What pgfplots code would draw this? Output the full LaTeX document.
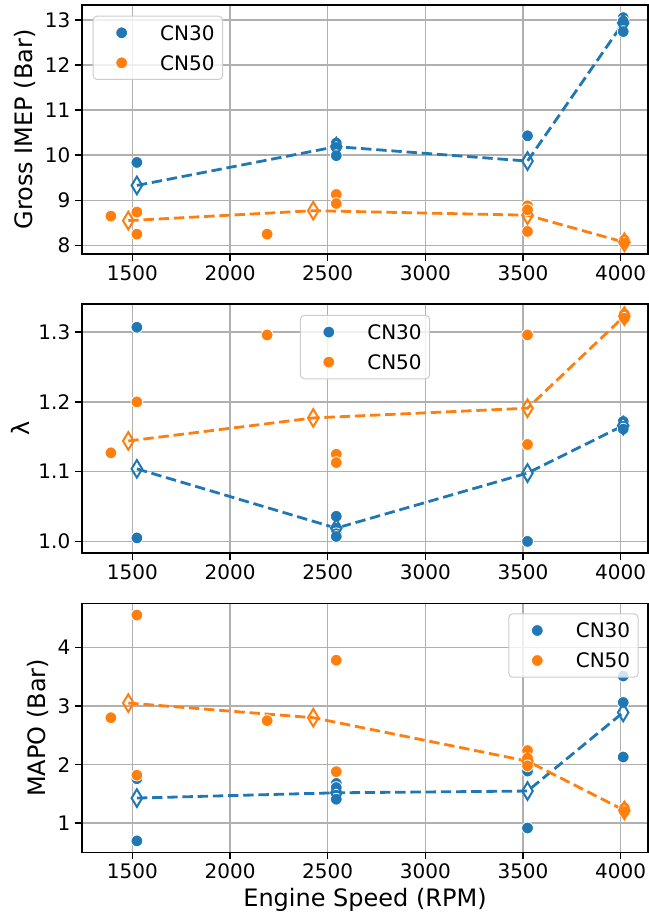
\documentclass[border=0pt]{standalone}
\usepackage{fontspec}
\setmainfont{DejaVu Sans}
\usepackage{pgfplots}
\pgfplotsset{compat=1.18}
\definecolor{tabblue}{RGB}{31,119,180}
\definecolor{taborange}{RGB}{255,127,14}
\definecolor{gridgray}{RGB}{176,176,176}
\definecolor{leggray}{RGB}{204,204,204}
\pgfplotsset{
  myax/.style={
    scale only axis, width=424.5pt, height=186.75pt,
    anchor=south west,
    xmin=1242, xmax=4140,
    xtick={1500,2000,2500,3000,3500,4000},
    axis line style={black, line width=1.2pt},
    tick align=outside, major tick length=5.25pt,
    tick style={black, line width=1.2pt},
    xtick pos=bottom, ytick pos=left,
    grid=major, grid style={gridgray, line width=1.2pt},
    /pgf/number format/assume math mode=true,
    /pgf/number format/1000 sep={},
    tick label style={font=\fontsize{15}{18}\selectfont},
    label style={font=\fontsize{18}{21}\selectfont},
    legend cell align=left,
    legend style={font=\fontsize{15}{18}\selectfont, draw=leggray, line width=0.75pt,
      rounded corners=3pt, fill=white, fill opacity=0.8, text opacity=1,
      inner xsep=6pt, inner ysep=7pt, row sep=11.5pt,
      nodes={inner sep=0pt, text height=11pt, text depth=0pt},
      /tikz/every odd column/.style={column sep=13.5pt}},
  },
  dots/.style={only marks, mark=*, mark size=4.4pt,
    mark options={draw=white, line width=0.6pt},
    legend image code/.code={\path (0pt,0pt) (30pt,0pt);
      \draw[mark repeat=2,mark phase=2,##1,fill opacity=1,draw opacity=1] plot coordinates {(0pt,0pt) (15pt,0pt) (30pt,0pt)};}},
  mean/.style={forget plot, line width=2.1pt, dash pattern=on 7.8pt off 3.6pt,
    mark=diamond, mark size=6.6pt, mark options={solid, fill=none, line width=1.5pt, xscale=0.8}},
}
\begin{document}
\begin{tikzpicture}
\useasboundingbox (0,0) rectangle (486.75pt,690.75pt);
% Panel 1
\begin{axis}[myax, at={(61.5pt,500.25pt)}, ymin=7.81, ymax=13.33,
  ytick={8,9,10,11,12,13}, ylabel={Gross IMEP (Bar)},
  legend style={at={(rel axis cs:0,1)}, anchor=north west, xshift=8pt, yshift=-8pt}]
\addplot[dots, color=tabblue] coordinates {
(1523,9.84) (2544,10.27) (2544,10.17) (2544,9.99) (3523,10.43)
(4013,13.05) (4013,12.97) (4013,12.74)};
\addlegendentry{CN30}
\addplot[dots, color=taborange] coordinates {
(1390,8.65) (1523,8.74) (1523,8.25) (2190,8.25) (2544,9.13) (2544,8.93)
(3523,8.88) (3523,8.79) (3523,8.31) (4019,8.12) (4019,8.05)};
\addlegendentry{CN50}
\addplot[mean, color=tabblue] coordinates {(1523,9.33) (2544,10.19) (3523,9.87) (4013,12.93)};
\addplot[mean, color=taborange] coordinates {(1479,8.55) (2426,8.77) (3523,8.67) (4019,8.07)};
\end{axis}
% Panel 2
\begin{axis}[myax, at={(61.5pt,275.8pt)}, ymin=0.983, ymax=1.340,
  ytick={1.0,1.1,1.2,1.3}, yticklabel style={/pgf/number format/.cd, fixed, fixed zerofill, precision=1},
  ylabel={λ},
  legend style={at={(rel axis cs:0.5,1)}, anchor=north, yshift=-8pt}]
\addplot[dots, color=tabblue] coordinates {
(1523,1.307) (1523,1.005) (2544,1.036) (2544,1.019) (2544,1.011) (2544,1.007)
(3523,1.000) (4013,1.172) (4013,1.165) (4013,1.161)};
\addlegendentry{CN30}
\addplot[dots, color=taborange] coordinates {
(1390,1.127) (1523,1.200) (2190,1.296) (2544,1.125) (2544,1.113)
(3523,1.296) (3523,1.139) (4019,1.326) (4019,1.320)};
\addlegendentry{CN50}
\addplot[mean, color=tabblue] coordinates {(1523,1.104) (2544,1.019) (3523,1.098) (4013,1.166)};
\addplot[mean, color=taborange] coordinates {(1479,1.144) (2426,1.177) (3523,1.191) (4019,1.323)};
\end{axis}
% Panel 3
\begin{axis}[myax, at={(61.5pt,51.5pt)}, ymin=0.505, ymax=4.75,
  ytick={1,2,3,4}, ylabel={MAPO (Bar)}, xlabel={Engine Speed (RPM)},
  legend style={at={(rel axis cs:1,1)}, anchor=north east, xshift=-7pt, yshift=-7.5pt}]
\addplot[dots, color=tabblue] coordinates {
(1523,1.76) (1523,0.70) (2544,1.68) (2544,1.61) (2544,1.48) (2544,1.41)
(3523,1.94) (3523,1.89) (3523,0.92) (4013,3.51) (4013,3.06) (4013,2.13)};
\addlegendentry{CN30}
\addplot[dots, color=taborange] coordinates {
(1390,2.80) (1523,4.55) (1523,1.82) (2190,2.75) (2544,3.78) (2544,1.88)
(3523,2.24) (3523,2.11) (3523,1.98) (4019,1.26) (4019,1.20)};
\addlegendentry{CN50}
\addplot[mean, color=tabblue] coordinates {(1523,1.43) (2544,1.52) (3523,1.55) (4013,2.89)};
\addplot[mean, color=taborange] coordinates {(1479,3.05) (2426,2.80) (3523,2.06) (4019,1.22)};
\end{axis}
\end{tikzpicture}
\end{document}
